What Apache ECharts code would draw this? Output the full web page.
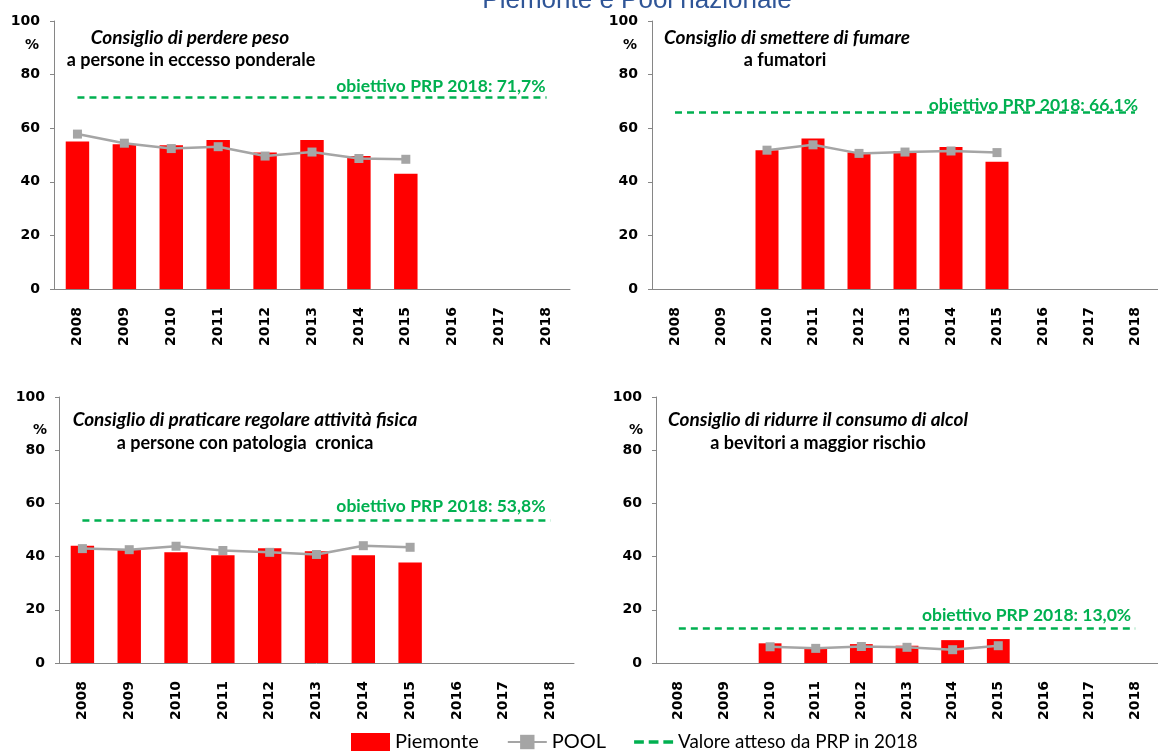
<!DOCTYPE html>
<html>
<head>
<meta charset="utf-8">
<script src="https://cdn.jsdelivr.net/npm/echarts@6/dist/echarts.min.js"></script>
<style>
html,body{margin:0;padding:0;background:#fff;}
#chart{width:1158px;height:751px;}
</style>
</head>
<body>
<div id="chart"></div>
<script>
// ---- data ----
var years = ['2008','2009','2010','2011','2012','2013','2014','2015','2016','2017','2018'];
var yTicks = [0, 20, 40, 60, 80, 100];

var pesoPiemonte = [55.0, 54.0, 53.6, 55.6, 50.9, 55.6, 49.6, 43.0, null, null, null];
var pesoPool     = [57.8, 54.4, 52.4, 53.1, 49.6, 51.1, 48.7, 48.4, null, null, null];

var fumoPiemonte = [null, null, 51.8, 56.2, 50.9, 51.5, 53.0, 47.5, null, null, null];
var fumoPool     = [null, null, 51.8, 53.8, 50.6, 51.1, 51.5, 50.9, null, null, null];

var fisicaPiemonte = [44.1, 42.6, 41.6, 40.5, 43.1, 42.0, 40.5, 37.8, null, null, null];
var fisicaPool     = [43.0, 42.6, 43.9, 42.3, 41.6, 40.8, 44.1, 43.5, null, null, null];

var alcolPiemonte = [null, null, 7.4, 5.5, 7.1, 6.5, 8.6, 9.0, null, null, null];
var alcolPool     = [null, null, 6.1, 5.5, 6.2, 5.9, 5.0, 6.5, null, null, null];

var targets = [71.7, 66.1, 53.8, 13.0];
var targetLabels = ['obiettivo PRP 2018: 71,7%', 'obiettivo PRP 2018: 66,1%', 'obiettivo PRP 2018: 53,8%', 'obiettivo PRP 2018: 13,0%'];

var titles1 = ['Consiglio di perdere peso', 'Consiglio di smettere di fumare', 'Consiglio di praticare regolare attività fisica', 'Consiglio di ridurre il consumo di alcol'];
var titles2 = ['a persone in eccesso ponderale', 'a fumatori', 'a persone con patologia  cronica', 'a bevitori a maggior rischio'];

var legendNames = ['Piemonte', 'POOL', 'Valore atteso da PRP in 2018'];
var mainTitle = 'Piemonte e Pool nazionale';

// ---- layout / style ----
var panels = [
  {grid:{left:54, top:21, width:516, height:268}, pie:pesoPiemonte, pool:pesoPool, t1:[190,38], t2:[191,60], pct:[32,45], lblDist:1},
  {grid:{left:652, top:21, width:516, height:268}, pie:fumoPiemonte, pool:fumoPool, t1:[787,38], t2:[785,60], pct:[630,45], lblDist:-3},
  {grid:{left:59, top:397, width:515, height:266}, pie:fisicaPiemonte, pool:fisicaPool, t1:[245,420], t2:[245,443], pct:[40,430], lblDist:5},
  {grid:{left:656, top:397, width:516, height:266}, pie:alcolPiemonte, pool:alcolPool, t1:[818,420], t2:[818,443], pct:[636,430], lblDist:4}
];

var RED = '#FF0000', GRAY = '#A5A5A5', GREEN = '#00B050', AXIS = '#868686';
var axisFont = 'DejaVu Sans';
var calFont = 'Lato';

var option = {
  animation: false,
  backgroundColor: '#fff',
  title: {
    text: mainTitle, left: 632, top: -17, textAlign: 'center',
    textStyle: {color: '#2F5597', fontSize: 26, fontWeight: 'normal', fontFamily: 'Liberation Sans'}
  },
  legend: {
    left: 351, top: 732, padding: 0, itemWidth: 39, itemHeight: 18, itemGap: 28,
    textStyle: {fontFamily: calFont, fontSize: 20, color: '#000'},
    data: [
      {name: legendNames[0], icon: 'rect'},
      {name: legendNames[1]},
      {name: legendNames[2], icon: 'path://M0,0h8v3h-8zM12,0h8v3h-8zM24,0h8v3h-8z', textStyle: {fontSize: 18.8}}
    ]
  },
  grid: [], xAxis: [], yAxis: [], series: [], graphic: []
};

panels.forEach(function (p, i) {
  option.grid.push(p.grid);
  option.xAxis.push({
    type: 'category', gridIndex: i, data: years, boundaryGap: true,
    axisLine: {show: true, lineStyle: {color: AXIS, width: 1}},
    axisTick: {show: false},
    axisLabel: {rotate: 90, margin: 18, color: '#000', fontFamily: axisFont, fontWeight: 'bold', fontSize: 14, interval: 0}
  });
  option.yAxis.push({
    type: 'value', gridIndex: i, min: yTicks[0], max: yTicks[yTicks.length-1], interval: 20,
    axisLine: {show: true, lineStyle: {color: AXIS, width: 1}},
    axisTick: {show: true, length: 4, lineStyle: {color: AXIS}},
    splitLine: {show: false},
    axisLabel: {margin: 14, color: '#000', fontFamily: axisFont, fontWeight: 'bold', fontSize: 14}
  });
  option.series.push({
    name: legendNames[0], type: 'bar', xAxisIndex: i, yAxisIndex: i,
    data: p.pie, barWidth: '50%', itemStyle: {color: RED}
  });
  option.series.push({
    name: legendNames[1], type: 'line', xAxisIndex: i, yAxisIndex: i,
    data: p.pool, symbol: 'rect', symbolSize: 9, z: 5,
    lineStyle: {color: GRAY, width: 2.5}, itemStyle: {color: GRAY}
  });
  option.series.push({
    name: legendNames[2], type: 'line', xAxisIndex: i, yAxisIndex: i,
    data: [], symbol: 'none', itemStyle: {color: GREEN}, lineStyle: {color: GREEN, type: [7,5], width: 2.5},
    markLine: {
      silent: true, symbol: ['none','none'],
      lineStyle: {color: GREEN, type: [7,5], width: 2.5},
      label: {show: true, position: 'insideEndTop', distance: p.lblDist, formatter: targetLabels[i],
               color: GREEN, fontFamily: calFont, fontWeight: 'bold', fontSize: 17.5},
      data: [[{coord: [years[0], targets[i]]}, {coord: [years[years.length-1], targets[i]]}]]
    }
  });
  option.graphic.push({type:'text', x:p.t1[0], y:p.t1[1], style:{text:titles1[i], fill:'#000', font:'italic bold 19px ' + calFont, textAlign:'center', textVerticalAlign:'middle'}});
  option.graphic.push({type:'text', x:p.t2[0], y:p.t2[1], style:{text:titles2[i], fill:'#000', font:'bold 18px ' + calFont, textAlign:'center', textVerticalAlign:'middle'}});
  option.graphic.push({type:'text', x:p.pct[0], y:p.pct[1], style:{text:'%', fill:'#000', font:'bold 14px ' + axisFont, textAlign:'center', textVerticalAlign:'middle'}});
});

var chart = echarts.init(document.getElementById('chart'), null, {renderer: 'canvas'});
chart.setOption(option);
</script>
</body>
</html>
